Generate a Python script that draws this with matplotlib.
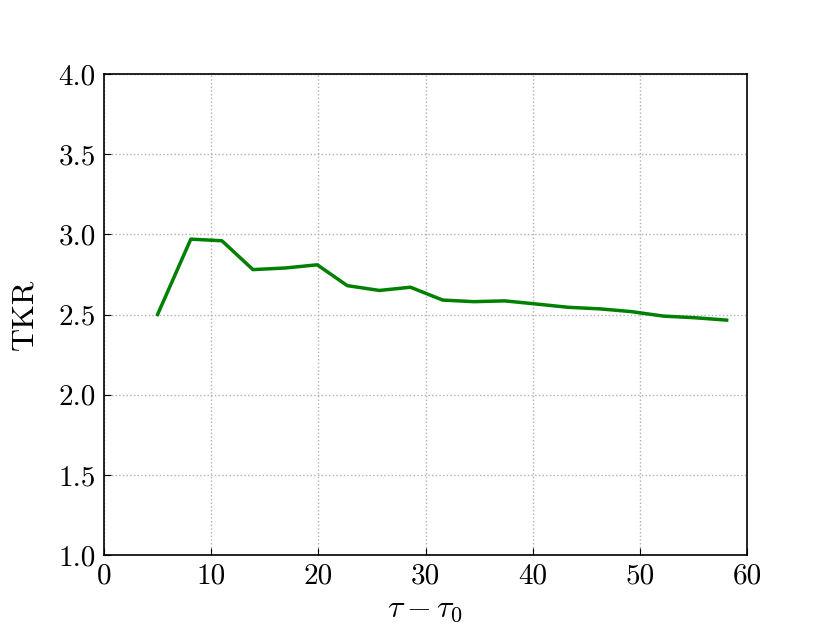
import matplotlib
matplotlib.use("Agg")
import matplotlib.pyplot as plt

tau = [5.0, 8.1, 11.0, 13.9, 16.9, 19.9, 22.7, 25.7, 28.6, 31.6, 34.5, 37.4, 40.4, 43.3, 46.3, 49.2, 52.2, 55.1, 58.1]
tkr = [2.50, 2.97, 2.96, 2.78, 2.79, 2.81, 2.68, 2.65, 2.67, 2.59, 2.58, 2.585, 2.565, 2.545, 2.535, 2.518, 2.49, 2.48, 2.465]
xticks = [0, 10, 20, 30, 40, 50, 60]
yticks = [1.0, 1.5, 2.0, 2.5, 3.0, 3.5, 4.0]

plt.rcParams['font.family'] = 'serif'
plt.rcParams['font.serif'] = ['cmr10']
plt.rcParams['mathtext.fontset'] = 'cm'
plt.rcParams['axes.formatter.use_mathtext'] = True

fig = plt.figure(figsize=(8.3, 6.23), dpi=100)
ax = fig.add_axes([104/830, 1-555/623, (747-104)/830, (555-74)/623])
ax.plot(tau, tkr, color='#008000', lw=2.5)
ax.set_xlim(0, 60)
ax.set_ylim(1, 4)
ax.set_xticks(xticks)
ax.set_yticks(yticks)
ax.set_xticklabels([str(v) for v in xticks])
ax.set_yticklabels([f"{v:.1f}" for v in yticks])
ax.grid(True, linestyle=':', color='#b0b0b0', lw=1)
ax.tick_params(direction='in', labelsize=21, length=5, pad=6, top=False, right=False)
ax.set_xlabel(r'$\tau - \tau_0$', fontsize=23, labelpad=5)
ax.set_ylabel('TKR', fontsize=23, labelpad=14)
for s in ax.spines.values():
    s.set_linewidth(1.2)
fig.savefig('out.png', dpi=100)
